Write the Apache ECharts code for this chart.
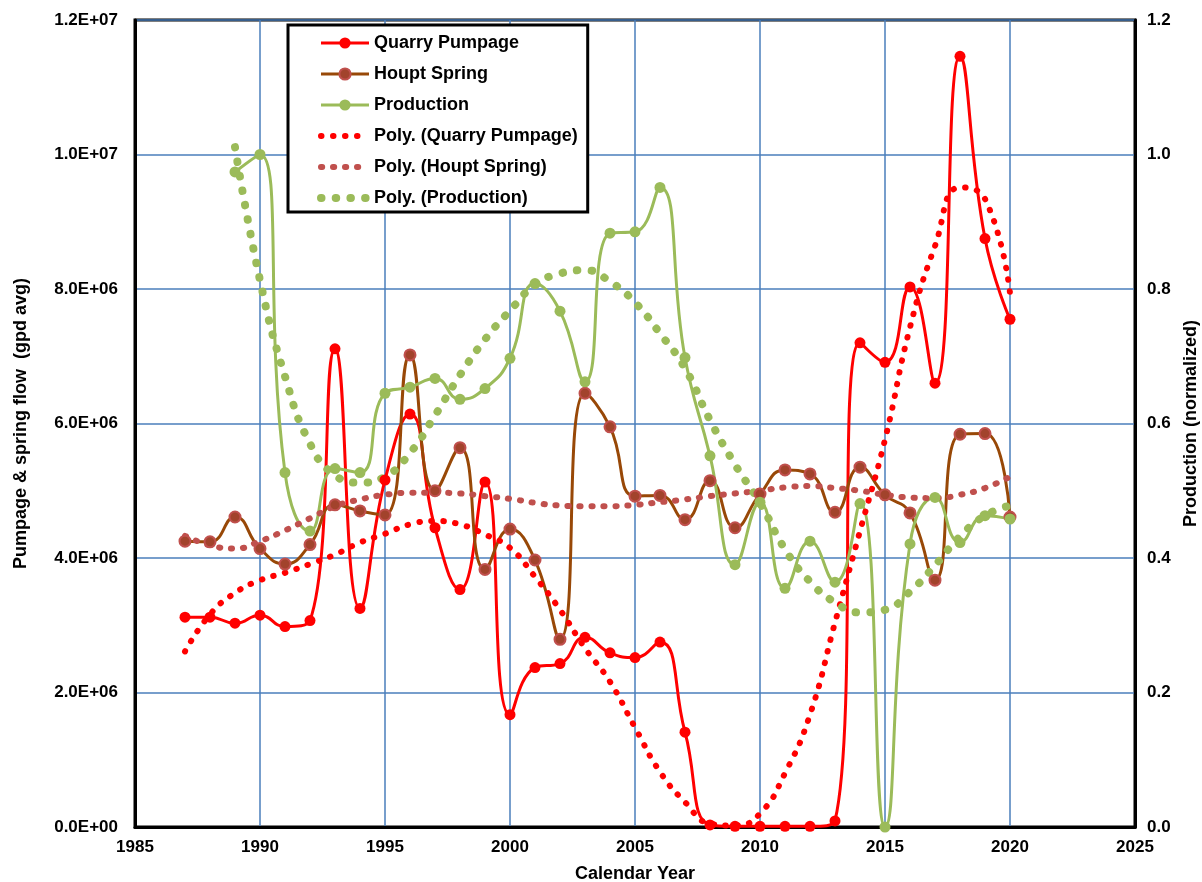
<!DOCTYPE html>
<html>
<head>
<meta charset="utf-8">
<script src="https://cdn.jsdelivr.net/npm/echarts@6/dist/echarts.min.js"></script>
<style>
html,body{margin:0;padding:0;background:#fff;overflow:hidden;}
#chart{width:1202px;height:882px;}
</style>
</head>
<body>
<div id="chart"></div>
<script>
// ---- data ----
const years = [1987,1988,1989,1990,1991,1992,1993,1994,1995,1996,1997,1998,1999,2000,2001,2002,2003,2004,2005,2006,2007,2008,2009,2010,2011,2012,2013,2014,2015,2016,2017,2018,2019,2020];
const prodYears = [1989,1990,1991,1992,1993,1994,1995,1996,1997,1998,1999,2000,2001,2002,2003,2004,2005,2006,2007,2008,2009,2010,2011,2012,2013,2014,2015,2016,2017,2018,2019,2020];

// gpd avg (millions)
const quarryPumpage = [3.12,3.12,3.03,3.15,2.98,3.07,7.11,3.25,5.16,6.14,4.45,3.53,5.13,1.67,2.37,2.43,2.82,2.59,2.52,2.75,1.41,0.03,0.01,0.01,0.01,0.01,0.09,7.20,6.91,8.03,6.60,11.46,8.75,7.55];
const houptSpring = [4.25,4.24,4.61,4.14,3.91,4.20,4.79,4.70,4.64,7.02,5.00,5.64,3.83,4.43,3.97,2.79,6.45,5.95,4.92,4.93,4.57,5.15,4.45,4.95,5.31,5.25,4.68,5.35,4.94,4.67,3.67,5.84,5.85,4.61];
// normalized
const production = [0.974,1.0,0.527,0.44,0.533,0.527,0.645,0.654,0.667,0.636,0.652,0.697,0.808,0.767,0.662,0.883,0.885,0.951,0.698,0.552,0.390,0.483,0.355,0.425,0.364,0.481,0.0,0.421,0.490,0.423,0.463,0.458];

// polynomial trendlines
const polyQuarry = [2.61,3.16,3.48,3.67,3.78,3.91,4.05,4.23,4.36,4.50,4.55,4.50,4.35,4.15,3.72,3.23,2.66,2.16,1.48,0.82,0.37,0.05,0.02,0.20,0.80,1.67,3.04,4.40,5.76,7.43,8.64,9.51,9.34,7.94];
const polyHoupt = [4.33,4.19,4.14,4.25,4.41,4.59,4.77,4.87,4.94,4.97,4.97,4.96,4.92,4.88,4.82,4.78,4.77,4.77,4.79,4.83,4.87,4.92,4.96,5.00,5.05,5.07,5.04,5.00,4.94,4.90,4.89,4.94,5.04,5.21];
const polyProduction = [1.011,0.813,0.670,0.570,0.523,0.512,0.521,0.556,0.612,0.672,0.725,0.768,0.806,0.823,0.828,0.811,0.780,0.734,0.682,0.605,0.539,0.482,0.413,0.365,0.334,0.319,0.323,0.350,0.389,0.432,0.463,0.478];

const seriesNames = ['Quarry Pumpage','Houpt Spring','Production','Poly. (Quarry Pumpage)','Poly. (Houpt Spring)','Poly. (Production)'];
const xTicks = {min:1985, max:2025, interval:5};
const yLeftTicks = {min:0, max:12000000, interval:2000000};
const yRightTicks = {min:0, max:1.2, interval:0.2};

// ---- build ----
const M = 1e6;
const pair = (xs, vs, k) => xs.map((x, i) => [x, vs[i] * k]);

const FONT = "'Liberation Sans', Arial, sans-serif";
const NARROW = "'Liberation Sans Narrow', 'Arial Narrow', 'Liberation Sans', Arial, sans-serif";
const GRID_BLUE = '#4A7EBB';

const RED = '#FF0000', BROWN = '#984807', HOUPT_MK = '#A2432C', HOUPT_TR = '#C0504D', GREEN = '#9BBB59';
const DOT_Q = [0.5, 11.5], DOT_H = [1.2, 10.8], DOT_P = [0.5, 14.2];

function expFmt(v){
  const s = Number(v).toExponential(1);
  const m = s.match(/^(-?[\d.]+)e([+-])(\d+)$/);
  let e = m[3]; if (e.length < 2) e = '0' + e;
  return m[1] + 'E' + m[2] + e;
}

const chart = echarts.init(document.getElementById('chart'), null, {renderer:'canvas'});

const solid = (name, data, color, yIdx, itemStyle) => ({
  name, type:'line', yAxisIndex:yIdx, data, smooth:0.5,
  symbol:'circle', symbolSize:11, showSymbol:true,
  lineStyle:{color, width:3},
  itemStyle: itemStyle || {color},
  emphasis:{disabled:true}, animation:false
});
const dotted = (name, data, color, yIdx, w, dash) => ({
  name, type:'line', yAxisIndex:yIdx, data, smooth:0.5,
  symbol:'none', showSymbol:false,
  lineStyle:{color, width:w, type:dash, cap:'round'},
  itemStyle:{color},
  emphasis:{disabled:true}, animation:false, z:3
});
const hidden = {color:'transparent', borderColor:'transparent', borderWidth:0, opacity:0};

chart.setOption({
  animation:false,
  backgroundColor:'#fff',
  grid:{left:135, right:67, top:20, bottom:55, containLabel:false, outerBoundsMode:'none',
        show:true, borderColor:'#000', borderWidth:3, backgroundColor:'transparent'},
  legend:{
    orient:'vertical', left:288, top:25,
    data:[
      {name:seriesNames[0], lineStyle:{width:3, color:RED}},
      {name:seriesNames[1], lineStyle:{width:3, color:BROWN}},
      {name:seriesNames[2], lineStyle:{width:3, color:GREEN}},
      {name:seriesNames[3], itemStyle:hidden, lineStyle:{width:6, color:RED, type:DOT_Q, cap:'round'}},
      {name:seriesNames[4], itemStyle:hidden, lineStyle:{width:6, color:HOUPT_TR, type:DOT_H, cap:'round'}},
      {name:seriesNames[5], itemStyle:hidden, lineStyle:{width:8, color:GREEN, type:DOT_P, cap:'round'}}
    ],
    itemWidth:48, itemHeight:14, itemGap:13,
    padding:[9,10,5,29],
    borderColor:'#000', borderWidth:3, backgroundColor:'#fff',
    textStyle:{fontFamily:FONT, fontWeight:'bold', fontSize:18, color:'#000'},
    selectedMode:false
  },
  xAxis:{
    type:'value', min:xTicks.min, max:xTicks.max, interval:xTicks.interval,
    name:'Calendar Year', nameLocation:'middle', nameGap:38,
    nameTextStyle:{fontFamily:NARROW, fontWeight:'bold', fontSize:18, color:'#000'},
    axisLine:{show:true, onZero:false, lineStyle:{color:'#000', width:3}},
    axisTick:{show:false},
    axisLabel:{fontFamily:FONT, fontWeight:'bold', fontSize:17, color:'#000', margin:12, formatter:v=>String(v)},
    splitLine:{show:true, lineStyle:{color:GRID_BLUE, width:1.5}}
  },
  yAxis:[{
    type:'value', position:'left', min:yLeftTicks.min, max:yLeftTicks.max, interval:yLeftTicks.interval,
    name:'Pumpage & spring flow  (gpd avg)', nameLocation:'middle', nameGap:105, nameRotate:90,
    nameTextStyle:{fontFamily:NARROW, fontWeight:'bold', fontSize:18, color:'#000'},
    axisLine:{show:true, onZero:false, lineStyle:{color:'#000', width:3}},
    axisTick:{show:false},
    axisLabel:{fontFamily:FONT, fontWeight:'bold', fontSize:17, color:'#000', margin:17, formatter:expFmt},
    splitLine:{show:true, lineStyle:{color:GRID_BLUE, width:1.5}}
  },{
    type:'value', position:'right', min:yRightTicks.min, max:yRightTicks.max, interval:yRightTicks.interval,
    name:'Production (normalized)', nameLocation:'middle', nameGap:47, nameRotate:90,
    nameTextStyle:{fontFamily:NARROW, fontWeight:'bold', fontSize:18, color:'#000'},
    axisLine:{show:true, onZero:false, lineStyle:{color:'#000', width:3}},
    axisTick:{show:false},
    axisLabel:{fontFamily:FONT, fontWeight:'bold', fontSize:17, color:'#000', margin:12, formatter:v=>Number(v).toFixed(1)},
    splitLine:{show:false}
  }],
  series:[
    solid(seriesNames[0], pair(years, quarryPumpage, M), RED, 0),
    solid(seriesNames[1], pair(years, houptSpring, M), BROWN, 0, {color:HOUPT_MK, borderColor:HOUPT_TR, borderWidth:2}),
    solid(seriesNames[2], pair(prodYears, production, 1), GREEN, 1),
    dotted(seriesNames[3], pair(years, polyQuarry, M), RED, 0, 6, DOT_Q),
    dotted(seriesNames[4], pair(years, polyHoupt, M), HOUPT_TR, 0, 6, DOT_H),
    dotted(seriesNames[5], pair(prodYears, polyProduction, 1), GREEN, 1, 8, DOT_P)
  ]
});
</script>
</body>
</html>
